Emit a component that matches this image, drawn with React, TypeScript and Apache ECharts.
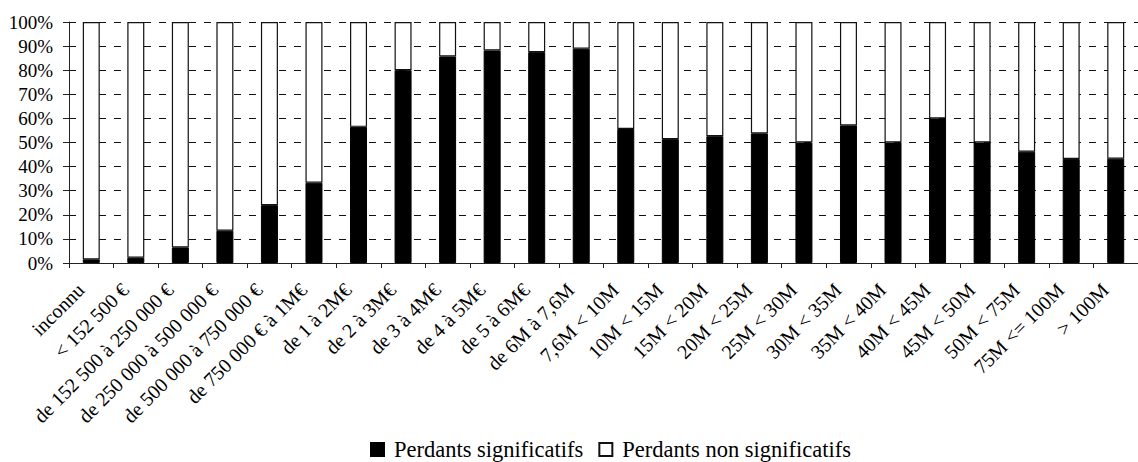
import React, { useEffect, useRef } from "react";
import * as echarts from "echarts";

// Turnover brackets
const categories: string[] = [
  "inconnu",
  "< 152 500 €",
  "de 152 500 à 250 000 €",
  "de 250 000 à 500 000 €",
  "de 500 000 à 750 000 €",
  "de 750 000 € à 1M€",
  "de 1 à 2M€",
  "de 2 à 3M€",
  "de 3 à 4M€",
  "de 4 à 5M€",
  "de 5 à 6M€",
  "de 6M à 7,6M",
  "7,6M < 10M",
  "10M < 15M",
  "15M < 20M",
  "20M < 25M",
  "25M < 30M",
  "30M < 35M",
  "35M < 40M",
  "40M < 45M",
  "45M < 50M",
  "50M < 75M",
  "75M <= 100M",
  "> 100M",
];

// Share (%) of significant losers per bracket
const significatifs: number[] = [
  1.5, 2.2, 6.5, 13.4, 24, 33.3, 56.5, 80, 85.7, 88.2, 87.5, 88.9,
  55.6, 51.4, 52.6, 53.8, 50, 57.1, 50, 60, 50, 46.2, 43.2, 43.3,
];

// Share (%) of non-significant losers per bracket
const nonSignificatifs: number[] = [
  98.5, 97.8, 93.5, 86.6, 76, 66.7, 43.5, 20, 14.3, 11.8, 12.5, 11.1,
  44.4, 48.6, 47.4, 46.2, 50, 42.9, 50, 40, 50, 53.8, 56.8, 56.7,
];

const yTicks = { min: 0, max: 100, interval: 10 };

const FONT = "Liberation Serif";

export default function App() {
  const ref = useRef<HTMLDivElement>(null);

  useEffect(() => {
    if (!ref.current) return;
    const chart = echarts.init(ref.current, null, { renderer: "svg" });
    chart.setOption({
      animation: false,
      backgroundColor: "#fff",
      textStyle: { fontFamily: FONT },
      grid: { left: 69, right: -12, top: 22, bottom: 199, containLabel: false },
      legend: {
        left: 370,
        top: 438,
        padding: 0,
        itemWidth: 13,
        itemHeight: 13,
        itemGap: 15,
        icon: "rect",
        textStyle: {
          fontFamily: FONT,
          fontSize: 22.5,
          color: "#000",
          padding: [0, 0, 0, 5],
        },
        data: ["Perdants significatifs", "Perdants non significatifs"],
      },
      xAxis: {
        type: "category",
        data: categories,
        axisLine: { show: true, lineStyle: { color: "#222", width: 1 } },
        axisTick: { show: true, length: 5, lineStyle: { color: "#222" } },
        axisLabel: {
          interval: 0,
          rotate: 45,
          margin: 13,
          padding: [0, 15, 0, 0],
          fontFamily: FONT,
          fontSize: 20,
          color: "#000",
        },
      },
      yAxis: {
        type: "value",
        min: yTicks.min,
        max: yTicks.max,
        interval: yTicks.interval,
        axisLine: { show: true, lineStyle: { color: "#222", width: 1 } },
        axisTick: { show: true, length: 6, lineStyle: { color: "#222" } },
        axisLabel: {
          formatter: "{value}%",
          margin: 16,
          fontFamily: FONT,
          fontSize: 19,
          color: "#000",
        },
        splitLine: {
          show: true,
          lineStyle: { color: "#111", type: [7, 8], width: 1 },
        },
      },
      series: [
        {
          name: "Perdants significatifs",
          type: "bar",
          stack: "total",
          barWidth: 17,
          data: significatifs,
          itemStyle: { color: "#000", borderColor: "#000", borderWidth: 1 },
        },
        {
          name: "Perdants non significatifs",
          type: "bar",
          stack: "total",
          barWidth: 17,
          data: nonSignificatifs,
          itemStyle: { color: "#fff", borderColor: "#111", borderWidth: 1.2 },
        },
      ],
    });
    return () => chart.dispose();
  }, []);

  return (
    <div
      ref={ref}
      style={{ position: "absolute", left: 0, top: 0, width: 1138, height: 462 }}
    />
  );
}
